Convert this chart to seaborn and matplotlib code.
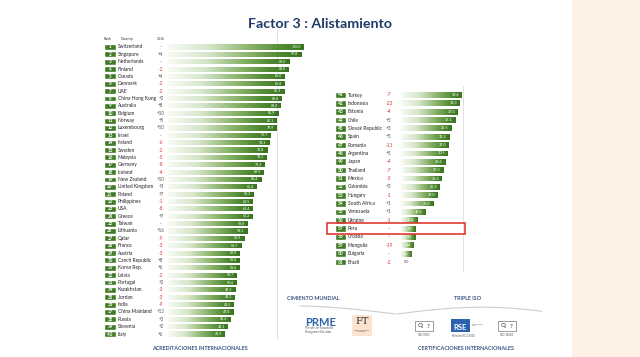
import numpy as np
import pandas as pd
import matplotlib
matplotlib.use("Agg")
import matplotlib.pyplot as plt
import seaborn as sns
from matplotlib.colors import LinearSegmentedColormap
from matplotlib.patches import Rectangle
from matplotlib.lines import Line2D

# ---------------- data ----------------
left_ranks = [1, 2, 3, 4, 5, 6, 7, 8, 9, 10, 11, 12, 13, 14, 15, 16, 17, 18, 19, 20,
              21, 22, 23, 24, 25, 26, 27, 28, 29, 30, 31, 32, 33, 34, 35, 36, 37, 38, 39, 40]
left_countries = ["Switzerland", "Singapore", "Netherlands", "Finland", "Canada", "Denmark", "UAE",
                  "China Hong Kong", "Australia", "Belgium", "Norway", "Luxembourg", "Israel", "Ireland",
                  "Sweden", "Malaysia", "Germany", "Iceland", "New Zealand", "United Kingdom", "Poland",
                  "Philippines", "USA", "Greece", "Taiwan", "Lithuania", "Qatar", "France", "Austria",
                  "Czech Republic", "Korea Rep.", "Latvia", "Portugal", "Kazakhstan", "Jordan", "India",
                  "China Mainland", "Russia", "Slovenia", "Italy"]
left_changes = ["-", "+4", "-", "-2", "+4", "-2", "-2", "+2", "+8", "+10", "+5", "+10", "-", "-6",
                "-2", "-5", "-8", "-4", "+10", "+3", "+7", "-1", "-8", "+7", "-", "+16", "-9", "-3",
                "-3", "+8", "+6", "-2", "+2", "-3", "-3", "-9", "+13", "+3", "+2", "+6"]
left_values = [100.0, 97.8, 89.0, 88.8, 86.0, 85.8, 85.3, 83.8, 83.0, 80.9, 80.1, 79.9, 75.7, 74.3,
               72.8, 72.1, 71.3, 69.9, 68.4, 65.4, 63.2, 62.5, 62.4, 62.2, 58.8, 58.1, 55.9, 53.7,
               52.9, 52.8, 52.6, 50.7, 50.6, 49.3, 49.2, 48.5, 47.8, 45.6, 44.1, 41.9]

right_ranks = [41, 42, 43, 44, 45, 46, 47, 48, 49, 50, 51, 52, 53, 54, 55, 56, 57, 58, 59, 60, 61]
right_countries = ["Turkey", "Indonesia", "Estonia", "Chile", "Slovak Republic", "Spain", "Romania",
                   "Argentina", "Japan", "Thailand", "Mexico", "Colombia", "Hungary", "South Africa",
                   "Venezuela", "Ukraine", "Peru", "Croatia", "Mongolia", "Bulgaria", "Brazil"]
right_changes = ["-7", "-23", "-4", "+5", "+3", "+5", "-11", "+5", "-4", "-7", "-3", "+3", "-1",
                 "+1", "+1", "-1", "-", "-", "-19", "-", "-2"]
right_values = [39.6, 38.3, 37.0, 35.1, 32.5, 31.2, 31.0, 30.5, 28.6, 27.3, 26.6, 25.3, 24.0, 20.8,
                15.6, 10.4, 9.7, 9.1, 8.4, 6.5, 0.0]
highlight_country = "Peru"

title_text = "Factor 3 : Alistamiento"

# ---------------- style ----------------
W, H = 640, 357
sns.set_theme(style="white")
plt.rcParams['font.family'] = ['Lato', 'DejaVu Sans']

fig = plt.figure(figsize=(6.4, 3.57), dpi=100)
fig.patch.set_facecolor('white')

BOX_GREEN = '#3f7a25'
RED = '#d83a34'
GRAY_TXT = '#555555'
cmap = LinearSegmentedColormap.from_list(
    "bar", [(0.0, '#f8fbf5'), (0.3, '#d6e6c9'), (0.62, '#86b066'), (0.84, '#4f8a32'), (1.0, '#3a7422')])


def px_axes(x0, y0, x1, y1):
    return fig.add_axes([x0 / W, 1 - y1 / H, (x1 - x0) / W, (y1 - y0) / H])


def draw_panel(ax, ranks, countries, changes, values, x0px, kpx,
               box_l, box_r, country_x, change_x, fs, cfs, header=False):
    X = lambda px: (px - x0px) / kpx
    df = pd.DataFrame({"country": countries, "value": values})
    sns.barplot(data=df, x="value", y="country", orient="h", ax=ax, width=0.7,
                color=BOX_GREEN, saturation=1, zorder=2)
    bars = list(ax.patches)
    grad = np.linspace(0, 1, 256).reshape(1, -1)
    for bar in bars:
        bx, by, bw, bh = bar.get_x(), bar.get_y(), bar.get_width(), bar.get_height()
        bar.set_facecolor('none')
        bar.set_edgecolor('none')
        if bw <= 0:
            continue
        im = ax.imshow(grad, extent=[bx, bx + bw, by + bh, by], aspect='auto', cmap=cmap,
                       zorder=2, interpolation='bilinear')
        im.set_clip_path(bar)
    pos = np.arange(len(countries))
    # rank boxes
    ax.barh(pos, width=X(box_r) - X(box_l), left=X(box_l), height=0.8, color=BOX_GREEN, zorder=3)
    for p, r, c, ch, v in zip(pos, ranks, countries, changes, values):
        ax.text((X(box_l) + X(box_r)) / 2, p, str(r), ha='center', va='center', color='white',
                fontsize=fs, fontweight='bold', zorder=4)
        ax.text(X(country_x), p, c, ha='left', va='center', color='#222222', fontsize=cfs, zorder=4)
        ax.text(X(change_x), p, ch, ha='center', va='center',
                color=RED if ch.startswith('-') and len(ch) > 1 else GRAY_TXT, fontsize=fs, zorder=4)
        if v > 4:
            ax.text(v - 2.5 / kpx, p, f"{v:.1f}", ha='right', va='center',
                    color='white', fontsize=fs - 0.7, zorder=4)
        else:
            ax.text(v + 2.0, p, f"{v:.1f}", ha='left', va='center', color=GRAY_TXT,
                    fontsize=fs - 0.7, zorder=4)
    ax.set_xlabel('')
    ax.set_ylabel('')
    ax.set_xticks([])
    ax.set_yticks([])
    for s in ax.spines.values():
        s.set_visible(False)
    ax.patch.set_alpha(0)
    if header:
        ax.text(X(box_l), -1.15, "Rank", ha='left', va='center', fontsize=fs - 0.7, color='#333333')
        ax.text(X(country_x + 3), -1.15, "Country", ha='left', va='center', fontsize=fs - 0.7, color='#333333')
        ax.text(X(change_x), -1.15, "2016", ha='center', va='center', fontsize=fs - 0.9, color='#333333')
    return X


# ---------------- left panel ----------------
axL = px_axes(98, 30, 312, 340)
kL, x0L, y0L, pL = 1.36, 168, 47, 7.36
XL = draw_panel(axL, left_ranks, left_countries, left_changes, left_values, x0L, kL,
                104, 116, 118, 161, 3.3, 3.5, header=True)
axL.axvline(80, color='#dddddd', lw=0.6, zorder=1)
axL.set_xlim((98 - x0L) / kL, (312 - x0L) / kL)
axL.set_ylim((340 - y0L) / pL, (30 - y0L) / pL)

# ---------------- right panel ----------------
axR = px_axes(326, 86, 480, 272)
kR, x0R, y0R, pR = 1.54, 401, 95, 8.35
XR = draw_panel(axR, right_ranks, right_countries, right_changes, right_values, x0R, kR,
                335, 346, 348, 389, 3.5, 3.5)
axR.axvline(40, color='#dddddd', lw=0.6, zorder=1)
axR.set_xlim((326 - x0R) / kR, (480 - x0R) / kR)
axR.set_ylim((272 - y0R) / pR, (86 - y0R) / pR)

# highlight rectangle around Peru
hp = right_countries.index(highlight_country)
axR.add_patch(Rectangle((XR(327), hp - 0.68), XR(465) - XR(327), 1.36, fill=False,
                        edgecolor='#e03a30', lw=1.2, clip_on=False, zorder=6))

# ---------------- title ----------------
fig.text(320 / W, 1 - 24 / H, title_text, ha='center', va='center', fontsize=10.3,
         fontweight='bold', color='#1f3a68')

# ---------------- peach strip ----------------
fig.patches.append(Rectangle((572 / W, 0), (W - 572) / W, 1, transform=fig.transFigure,
                             facecolor='#fdf1e6', edgecolor='none', zorder=0))


# ---------------- bottom decorations ----------------
def ftxt(x, y, s, **kw):
    fig.text(x / W, 1 - y / H, s, **kw)


BLUE_T = '#3b5582'
ftxt(287, 299, "CIMIENTO MUNDIAL", ha='left', va='center', fontsize=3.9, fontweight='bold', color=BLUE_T)
ftxt(468, 298, "TRIPLE ISO", ha='center', va='center', fontsize=3.9, fontweight='bold', color=BLUE_T)
ftxt(200, 348, "ACREDITACIONES INTERNACIONALES", ha='center', va='center', fontsize=3.9,
     fontweight='bold', color=BLUE_T)
ftxt(466, 349, "CERTIFICACIONES INTERNACIONALES", ha='center', va='center', fontsize=3.9,
     fontweight='bold', color=BLUE_T)

t = np.linspace(0, 1, 50)
# decorative curves
cx1 = 300 + t * 95
cy1 = 306 + 8 * t ** 1.6
cx2 = 397 + t * 145
cy2 = 314 - 8 * np.sin(np.pi * t * 0.8) + 2 * t
for cx, cy in ((cx1, cy1), (cx2, cy2)):
    fig.add_artist(Line2D(cx / W, 1 - cy / H, transform=fig.transFigure, color='#cccccc', lw=0.8))

ftxt(305, 322, "PRME", ha='left', va='center', fontsize=8, fontweight='bold', color='#2a63a8')
ftxt(305, 330, "Principles for Responsible\nManagement Education", ha='left', va='center', fontsize=1.8,
     color='#555555', linespacing=1.0)
fig.patches.append(Rectangle((352 / W, 1 - 336 / H), 20 / W, 21 / H, transform=fig.transFigure,
                             facecolor='#fbe3cf', edgecolor='none'))
ftxt(362, 322, "FT", ha='center', va='center', fontsize=7, color='#333333', family='DejaVu Serif')
ftxt(362, 331, "Financial Times\nRanking", ha='center', va='center', fontsize=1.6, color='#555555')

for xc, lab in ((424, "ISO 9001"), (507, "ISO 14001")):
    fig.patches.append(Rectangle(((xc - 9) / W, 1 - 331 / H), 18 / W, 10 / H, transform=fig.transFigure,
                                 facecolor='none', edgecolor='#777777', lw=0.5))
    ftxt(xc - 4, 326, "Q", ha='center', va='center', fontsize=4.5, fontweight='bold', color='#666666')
    ftxt(xc + 4, 326, "?", ha='center', va='center', fontsize=4.5, fontweight='bold', color='#666666')
    ftxt(xc, 335, lab, ha='center', va='center', fontsize=2, color='#444444')
fig.patches.append(Rectangle((451 / W, 1 - 332 / H), 19 / W, 13 / H, transform=fig.transFigure,
                             facecolor='#2c63b0', edgecolor='none'))
ftxt(460, 327, "RSE", ha='center', va='center', fontsize=5.5, fontweight='bold', color='white')
ftxt(472, 325, "Verified by\nSGS", ha='left', va='center', fontsize=1.6, color='#555555')
ftxt(463, 336, "Mención ISO 26000", ha='center', va='center', fontsize=1.8, color='#555555')

fig.savefig("out.png", dpi=100)
